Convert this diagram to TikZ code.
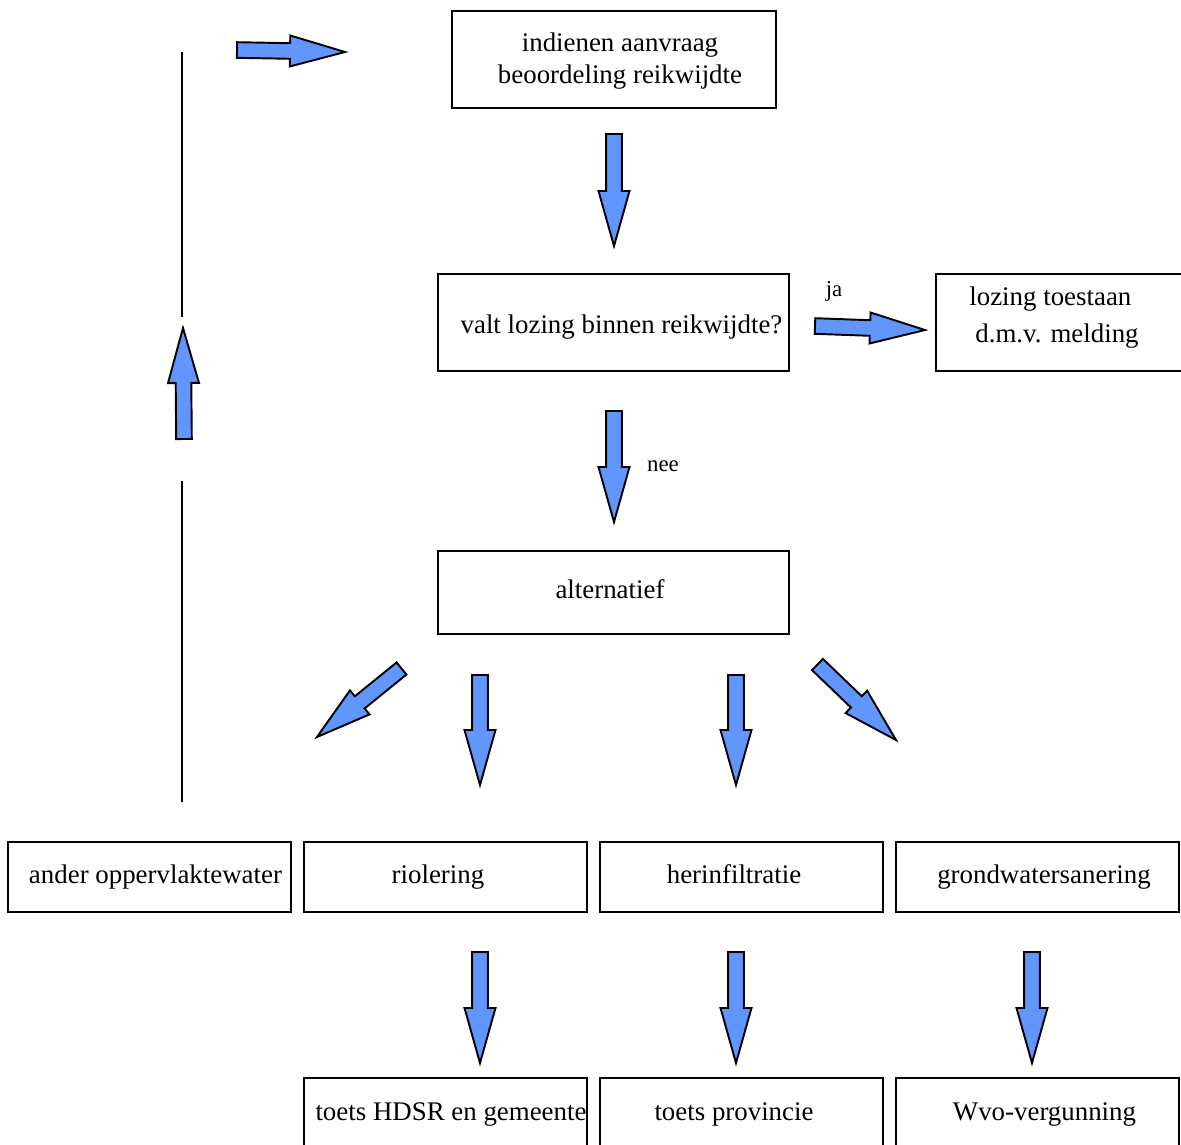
\documentclass[tikz,border=0pt]{standalone}
\usepackage{fontspec}
\setmainfont{Liberation Serif}
\usetikzlibrary{calc}
\definecolor{arrblue}{RGB}{98,150,255}
\newcommand\blockarr[2]{%
  \coordinate (hb) at ($(#2)!1.1cm!(#1)$);
  \draw[blk] ($(#1)!0.156cm!90:(#2)$) -- ($(hb)!0.156cm!90:(#2)$) -- ($(hb)!0.31cm!90:(#2)$) -- (#2)
    -- ($(hb)!0.31cm!-90:(#2)$) -- ($(hb)!0.156cm!-90:(#2)$) -- ($(#1)!0.156cm!-90:(#2)$) -- cycle;}
\begin{document}
\begin{tikzpicture}[x=0.02cm,y=-0.02cm,
  box/.style={draw, line width=1.1pt, rectangle, inner sep=0pt},
  rowbox/.style={box, minimum width=5.66cm, minimum height=1.4cm},
  txt/.style={font=\fontsize{15.3}{18.5}\selectfont, inner sep=0pt, align=center},
  txtone/.style={txt, text height=10.5pt, text depth=3.4pt},
  small/.style={font=\fontsize{13}{15}\selectfont, inner sep=0pt},
  blk/.style={draw=black, fill=arrblue, line width=1.1pt, line join=miter},
  vline/.style={draw, line width=1pt}]
\clip (0,0) rectangle (1181,1144);
\fill[white] (0,0) rectangle (1181,1144);

% boxes
\node[box, minimum width=6.48cm, minimum height=1.94cm,
  label={[txt, xshift=0.12cm, yshift=-0.03cm]center:indienen aanvraag\\beoordeling reikwijdte}] (aanvraag) at (614,59.5) {};
\node[box, minimum width=7.02cm, minimum height=1.94cm,
  label={[txtone, xshift=0.16cm, yshift=-0.09cm]center:valt lozing binnen reikwijdte?}] (valt) at (613.5,322.5) {};
\node[box, minimum width=5.0cm, minimum height=1.94cm,
  label={[txt, align=left, xshift=-0.14cm, yshift=0.10cm]center:lozing toestaan\\[0.08cm]\hspace*{0.12cm}d.m.v. melding}] (melding) at (1061,322.5) {};
\node[box, minimum width=7.02cm, minimum height=1.66cm,
  label={[txtone, xshift=-0.07cm, yshift=0.01cm]center:alternatief}] (alt) at (613.5,592.5) {};

\node[rowbox, label={[txtone, xshift=0.12cm]center:ander oppervlaktewater}] (ander) at (149.5,877) {};
\node[rowbox, label={[txtone, xshift=-0.15cm]center:riolering}] (riol) at (445.5,877) {};
\node[rowbox, label={[txtone, xshift=-0.15cm]center:herinfiltratie}] (herinf) at (741.5,877) {};
\node[rowbox, label={[txtone, xshift=0.13cm]center:grondwatersanering}] (grondw) at (1037.5,877) {};

\node[rowbox, label={[txtone, xshift=0.11cm, yshift=-0.02cm]center:toets HDSR en gemeente}] (hdsr) at (445.5,1113) {};
\node[rowbox, label={[txtone, xshift=-0.15cm, yshift=-0.02cm]center:toets provincie}] (prov) at (741.5,1113) {};
\node[rowbox, label={[txtone, xshift=0.14cm, yshift=-0.02cm]center:Wvo-vergunning}] (wvo) at (1037.5,1113) {};

% labels
\node[small] (ja) at (834,291) {ja};
\node[small] (nee) at (663,466) {nee};

% arrow coordinates
\coordinate (a1s) at (237,50);   \coordinate (a1t) at (345,52);
\coordinate (a2s) at (614,134);  \coordinate (a2t) at (614,246);
\coordinate (a3s) at (815,326);  \coordinate (a3t) at (925,330);
\coordinate (a4s) at (614,411);  \coordinate (a4t) at (614,522);
\coordinate (a5s) at (184,439);  \coordinate (a5t) at (183,328);
\coordinate (a6s) at (401.5,668.5); \coordinate (a6t) at (317,737);
\coordinate (a7s) at (480,675);  \coordinate (a7t) at (480,785);
\coordinate (a8s) at (736,675);  \coordinate (a8t) at (736,785);
\coordinate (a9s) at (817.5,664.5); \coordinate (a9t) at (896,740);
\coordinate (a10s) at (480,952); \coordinate (a10t) at (480,1063);
\coordinate (a11s) at (736,952); \coordinate (a11t) at (736,1063);
\coordinate (a12s) at (1032,952); \coordinate (a12t) at (1032,1063);

\blockarr{a1s}{a1t}
\blockarr{a2s}{a2t}
\blockarr{a3s}{a3t}
\blockarr{a4s}{a4t}
\blockarr{a5s}{a5t}
\blockarr{a6s}{a6t}
\blockarr{a7s}{a7t}
\blockarr{a8s}{a8t}
\blockarr{a9s}{a9t}
\blockarr{a10s}{a10t}
\blockarr{a11s}{a11t}
\blockarr{a12s}{a12t}

% loop-back line
\coordinate (l1a) at (182,52);  \coordinate (l1b) at (182,317);
\coordinate (l2a) at (182,481); \coordinate (l2b) at (182,802);
\draw[vline] (l1a) -- (l1b);
\draw[vline] (l2a) -- (l2b);
\end{tikzpicture}
\end{document}
